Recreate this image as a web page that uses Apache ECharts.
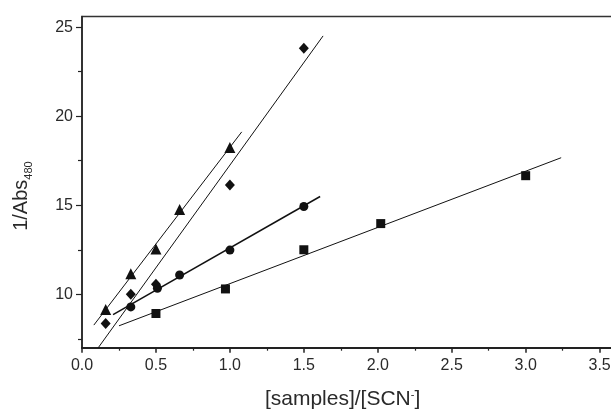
<!DOCTYPE html>
<html>
<head>
<meta charset="utf-8">
<script src="https://cdn.jsdelivr.net/npm/echarts@6/dist/echarts.min.js"></script>
<style>html,body{margin:0;padding:0;background:#fff}#c{width:611px;height:410px}</style>
</head>
<body>
<div id="c"></div>
<script>
// ---- data ----
const triX = [0.16, 0.33, 0.50, 0.66, 1.00];
const triY = [9.14, 11.16, 12.54, 14.76, 18.25];
const diaX = [0.16, 0.33, 0.50, 1.00, 1.50];
const diaY = [8.36, 10.00, 10.56, 16.14, 23.82];
const cirX = [0.33, 0.51, 0.66, 1.00, 1.50];
const cirY = [9.29, 10.34, 11.08, 12.48, 14.93];
const sqX = [0.50, 0.97, 1.50, 2.02, 3.00];
const sqY = [8.92, 10.30, 12.50, 13.97, 16.66];
// fitted straight lines: end points
const triFitX = [0.08, 1.08];
const triFitY = [8.27, 19.12];
const diaFitX = [0.11, 1.63];
const diaFitY = [7.00, 24.51];
const cirFitX = [0.21, 1.61];
const cirFitY = [8.86, 15.49];
const sqFitX = [0.25, 3.24];
const sqFitY = [8.23, 17.67];
// axis ticks
const xMajor = [0, 0.5, 1.0, 1.5, 2.0, 2.5, 3.0, 3.5];
const xMinor = [0.25, 0.75, 1.25, 1.75, 2.25, 2.75, 3.25];
const yMajor = [10, 15, 20, 25];
const yMinor = [7.5, 12.5, 17.5, 22.5];
const xTitle = '[samples]/[SCN';
const yTitle = '1/Abs';
const ySub = '480';

const pairs = (xs, ys) => xs.map((x, i) => [x, ys[i]]);
const ink = '#111';
const textCol = '#2a2a2a';
const font = 'Liberation Sans, Arial, Helvetica, sans-serif';

const chart = echarts.init(document.getElementById('c'), null, {renderer: 'canvas'});
const fitLine = (xs, ys, w) => ({
  type: 'line', data: pairs(xs, ys), showSymbol: false, symbol: 'none',
  lineStyle: {color: ink, width: w}, silent: true, z: 2, clip: true, animation: false
});
const pts = (xs, ys, sym, size) => ({
  type: 'scatter', data: pairs(xs, ys), symbol: sym, symbolSize: size,
  itemStyle: {color: ink, opacity: 1}, z: 3, animation: false
});
chart.setOption({
  animation: false,
  backgroundColor: '#fff',
  grid: {left: 82, top: 16.5, width: 547.2, height: 331.2, outerBoundsMode: 'none', containLabel: false,
         show: true, borderColor: '#333', borderWidth: 1.5},
  xAxis: [{
    type: 'value', min: 0, max: 3.7,
    name: '{a|' + xTitle + '}{s|-}{a|]}', nameLocation: 'middle', nameGap: 39,
    nameTextStyle: {padding: [0, 26, 0, 0], rich: {
      a: {fontSize: 21, lineHeight: 26, color: textCol, fontFamily: font},
      s: {fontSize: 11, lineHeight: 11, color: textCol, fontFamily: font, verticalAlign: 'top', padding: [3, 0, 0, 0]}
    }},
    axisLine: {show: true, onZero: false, lineStyle: {color: '#222', width: 2}},
    axisTick: {show: true, inside: false, length: 5, customValues: xMajor, lineStyle: {color: '#222', width: 1.5}},
    axisLabel: {margin: 10, fontSize: 16, color: textCol, fontFamily: font, customValues: xMajor, formatter: v => v.toFixed(1)},
    splitLine: {show: false}
  }, {
    type: 'value', min: 0, max: 3.7, position: 'bottom',
    axisLine: {show: false},
    axisTick: {show: true, inside: false, length: 3, customValues: xMinor, lineStyle: {color: '#222', width: 1.2}},
    axisLabel: {show: false}, splitLine: {show: false}
  }],
  yAxis: [{
    type: 'value', min: 7, max: 25.6,
    name: '{a|' + yTitle + '}{b|' + ySub + '}', nameLocation: 'middle', nameGap: 48, nameRotate: 90,
    nameTextStyle: {padding: [0, 28, 0, 0], rich: {
      a: {fontSize: 20, lineHeight: 26, color: textCol, fontFamily: font},
      b: {fontSize: 11, lineHeight: 11, color: textCol, fontFamily: font, verticalAlign: 'bottom'}
    }},
    axisLine: {show: true, onZero: false, lineStyle: {color: '#222', width: 1.5}},
    axisTick: {show: true, inside: false, length: 6, customValues: yMajor, lineStyle: {color: '#222', width: 1.2}},
    axisLabel: {margin: 9, fontSize: 16, color: textCol, fontFamily: font, customValues: yMajor},
    splitLine: {show: false}
  }, {
    type: 'value', min: 7, max: 25.6, position: 'left',
    axisLine: {show: false},
    axisTick: {show: true, inside: false, length: 4, customValues: yMinor, lineStyle: {color: '#222', width: 1.2}},
    axisLabel: {show: false}, splitLine: {show: false}
  }],
  series: [
    fitLine(triFitX, triFitY, 1),
    fitLine(diaFitX, diaFitY, 1),
    fitLine(cirFitX, cirFitY, 1.5),
    fitLine(sqFitX, sqFitY, 1),
    pts(triX, triY, 'triangle', 11),
    pts(diaX, diaY, 'diamond', [10, 11]),
    pts(cirX, cirY, 'circle', 9),
    pts(sqX, sqY, 'rect', 9)
  ]
});
</script>
</body>
</html>
